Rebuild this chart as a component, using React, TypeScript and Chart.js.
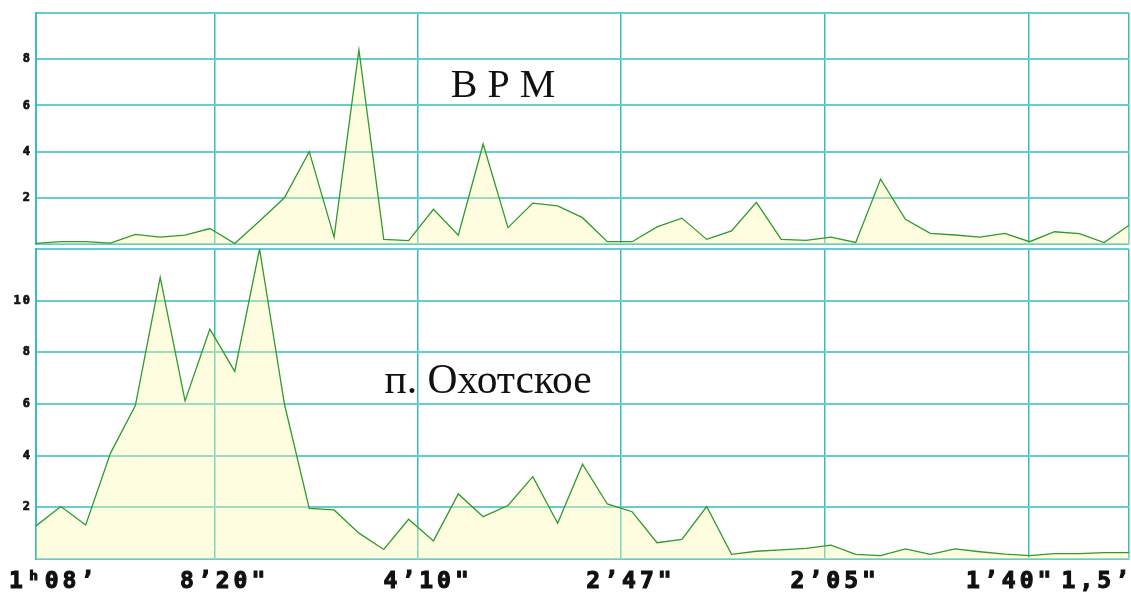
import React, { useEffect, useRef } from 'react';
import { Chart, registerables } from 'chart.js';

Chart.register(...registerables);

// Record length 1h08' = 4080 s; points are harmonics k / 4080 Hz
const RECORD_SECONDS = 4080;
const harmonics = [1, 2, 3, 4, 5, 6, 7, 8, 9, 10, 11, 12, 13, 14, 15, 16, 17, 18, 19, 20, 21, 22, 23, 24, 25, 26, 27, 28, 29, 30, 31, 32, 33, 34, 35, 36, 37, 38, 39, 40, 41, 42, 43, 44, 45];

const vrmAmplitude = [0.03, 0.1, 0.1, 0.04, 0.42, 0.3, 0.38, 0.67, 0.02, 1.0, 2.0, 4.0, 0.3, 8.4, 0.2, 0.15, 1.5, 0.38, 4.33, 0.71, 1.77, 1.65, 1.14, 0.1, 0.1, 0.74, 1.12, 0.2, 0.57, 1.8, 0.2, 0.16, 0.3, 0.07, 2.81, 1.07, 0.46, 0.39, 0.3, 0.46, 0.1, 0.53, 0.45, 0.06, 0.81];

const okhotskAmplitude = [1.28, 2.03, 1.32, 4.1, 5.94, 10.9, 6.12, 8.9, 7.26, 12.0, 6.0, 1.96, 1.9, 1.0, 0.37, 1.54, 0.7, 2.52, 1.64, 2.07, 3.19, 1.38, 3.67, 2.13, 1.83, 0.63, 0.76, 2.03, 0.18, 0.3, 0.35, 0.41, 0.54, 0.18, 0.13, 0.39, 0.18, 0.39, 0.28, 0.19, 0.13, 0.21, 0.21, 0.25, 0.25];

const vrmTicks = [2, 4, 6, 8];
const okhotskTicks = [2, 4, 6, 8, 10];

const gridPeriodsSeconds = [498, 249, 166.2, 124.5, 99.6];
const gridPeriodLabels = ['8’20"', '4’10"', '2’47"', '2’05"', '1’40"'];
const firstPeriodLabel = '1ʰ08’';
const lastPeriodLabel = '1,5’';

const vrmTitle = 'В Р М';
const okhotskTitle = 'п. Охотское';

const W = 1131;
const H_GRID = '#66CCCC';
const V_GRID = '#3DBBBB';
const LINE = '#2E9B2E';
const FILL = 'rgba(255, 250, 170, 0.38)';

type PanelProps = {
  values: number[];
  yMax: number;
  tickValues: number[];
  title: string;
  titleAt: [number, number];
  titleSize: number;
  canvasTop: number;
  canvasHeight: number;
  padTop: number;
  padBottom: number;
  showXLabels: boolean;
};

function Panel(p: PanelProps) {
  const ref = useRef<HTMLCanvasElement>(null);
  useEffect(() => {
    const gridValues = gridPeriodsSeconds.map((s) => RECORD_SECONDS / s);
    const xMin = harmonics[0];
    const xMax = harmonics[harmonics.length - 1];

    const titlePlugin = {
      id: 'panelTitle',
      afterDatasetsDraw(chart: any) {
        const { ctx, scales } = chart;
        ctx.save();
        ctx.letterSpacing = '0px';
        ctx.font = `${p.titleSize}px "Liberation Serif"`;
        ctx.fillStyle = '#111';
        ctx.textAlign = 'center';
        ctx.textBaseline = 'alphabetic';
        ctx.fillText(p.title, scales.x.getPixelForValue(p.titleAt[0]), scales.y.getPixelForValue(p.titleAt[1]));
        ctx.restore();
      },
    };

    const tickSpacingPlugin = {
      id: 'tickSpacing',
      beforeDraw(chart: any) {
        chart.ctx.letterSpacing = '2px';
      },
    };

    const xLabelPlugin = {
      id: 'xLabels',
      afterDraw(chart: any) {
        if (!p.showXLabels) return;
        const { ctx, chartArea, scales } = chart;
        const x = scales.x;
        ctx.save();
        ctx.font = 'bold 23px "DejaVu Sans Mono"';
        ctx.letterSpacing = '4px';
        ctx.fillStyle = '#111';
        ctx.strokeStyle = '#111';
        ctx.lineWidth = 1.1;
        ctx.textBaseline = 'alphabetic';
        const yb = chartArea.bottom + 29;
        const put = (t: string, px: number) => {
          ctx.fillText(t, px, yb);
          ctx.strokeText(t, px, yb);
        };
        ctx.textAlign = 'left';
        put(firstPeriodLabel, x.getPixelForValue(xMin) - 27);
        ctx.textAlign = 'center';
        gridValues.forEach((v, i) => {
          const shift = i === gridValues.length - 1 ? -18 : 10;
          put(gridPeriodLabels[i], x.getPixelForValue(v) + shift);
        });
        ctx.textAlign = 'right';
        put(lastPeriodLabel, x.getPixelForValue(xMax) + 4);
        ctx.restore();
      },
    };

    const chart = new Chart(ref.current!, {
      type: 'line',
      data: {
        datasets: [
          {
            data: harmonics.map((k, i) => ({ x: k, y: p.values[i] })),
            borderColor: LINE,
            borderWidth: 1.3,
            backgroundColor: FILL,
            fill: 'origin',
            pointRadius: 0,
            tension: 0,
          },
        ],
      },
      options: {
        animation: false,
        responsive: false,
        events: [],
        layout: { padding: { top: p.padTop, right: 2, bottom: p.padBottom, left: 0 } },
        plugins: { legend: { display: false }, tooltip: { enabled: false } },
        scales: {
          x: {
            type: 'linear',
            min: xMin,
            max: xMax,
            afterBuildTicks(scale: any) {
              scale.ticks = [xMin, ...gridValues, xMax].map((v) => ({ value: v }));
            },
            afterFit(scale: any) {
              scale.height = 0;
              scale.paddingLeft = 0;
              scale.paddingRight = 0;
            },
            ticks: { display: false },
            grid: { color: V_GRID, lineWidth: 1.5, drawTicks: false },
            border: { display: true, color: H_GRID, width: 2 },
          },
          y: {
            type: 'linear',
            min: 0,
            max: p.yMax,
            afterBuildTicks(scale: any) {
              const t = [0, ...p.tickValues, p.yMax];
              scale.ticks = t.map((v) => ({ value: v }));
            },
            afterFit(scale: any) {
              scale.width = 36;
              scale.paddingTop = 0;
              scale.paddingBottom = 0;
            },
            ticks: {
              padding: 4,
              color: '#111',
              textStrokeColor: '#111',
              textStrokeWidth: 0.7,
              font: { family: '"DejaVu Sans Mono"', weight: 'bold', size: 12 },
              callback: (v: any) => (p.tickValues.includes(Number(v)) ? String(v) : ''),
            },
            grid: { color: H_GRID, lineWidth: 2, drawTicks: false },
            border: { display: true, color: V_GRID, width: 2 },
          },
        },
      },
      plugins: [tickSpacingPlugin, titlePlugin, xLabelPlugin],
    } as any);
    return () => chart.destroy();
  }, []);
  return (
    <canvas
      ref={ref}
      width={W}
      height={p.canvasHeight}
      style={{ position: 'absolute', left: 0, top: p.canvasTop, display: 'block' }}
    />
  );
}

export default function App() {
  return (
    <div style={{ position: 'absolute', left: 0, top: 0, width: W, height: 595, background: '#fff' }}>
      <Panel
        values={vrmAmplitude}
        yMax={10}
        tickValues={vrmTicks}
        title={vrmTitle}
        titleAt={[19.8, 6.35]}
        titleSize={40}
        canvasTop={0}
        canvasHeight={246}
        padTop={13}
        padBottom={2}
        showXLabels={false}
      />
      <Panel
        values={okhotskAmplitude}
        yMax={12}
        tickValues={okhotskTicks}
        title={okhotskTitle}
        titleAt={[19.2, 6.43]}
        titleSize={41.5}
        canvasTop={246}
        canvasHeight={349}
        padTop={3}
        padBottom={36}
        showXLabels={true}
      />
    </div>
  );
}
